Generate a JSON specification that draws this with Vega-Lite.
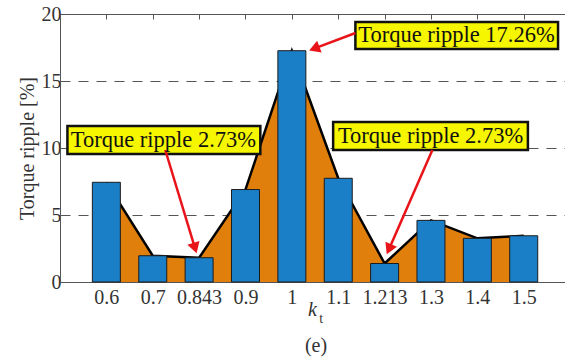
{
  "$schema": "https://vega.github.io/schema/vega-lite/v6.json",
  "width": 505,
  "height": 268,
  "autosize": {"type": "none"},
  "padding": {"left": 60, "top": 14, "right": 0, "bottom": 82},
  "background": "white",
  "config": {
    "view": {"stroke": null},
    "font": "Liberation Serif",
    "axis": {"labelFont": "Liberation Serif", "titleFont": "Liberation Serif", "labelColor": "#333", "titleColor": "#333", "domainColor": "#555", "tickColor": "#555", "titleFontWeight": "normal"}
  },
  "datasets": {
    "bars": [
      {"k": "0.6", "idx": 1, "ripple": 7.44},
      {"k": "0.7", "idx": 2, "ripple": 1.96},
      {"k": "0.843", "idx": 3, "ripple": 1.81},
      {"k": "0.9", "idx": 4, "ripple": 6.9},
      {"k": "1", "idx": 5, "ripple": 17.26},
      {"k": "1.1", "idx": 6, "ripple": 7.74},
      {"k": "1.213", "idx": 7, "ripple": 1.38},
      {"k": "1.3", "idx": 8, "ripple": 4.6},
      {"k": "1.4", "idx": 9, "ripple": 3.26},
      {"k": "1.5", "idx": 10, "ripple": 3.45}
    ],
    "notes": [
      {"label": "Torque ripple 2.73%", "x": 0.16, "x2": 4.32, "y": 9.55, "y2": 11.64, "tx": 2.23, "ty": 10.6},
      {"label": "Torque ripple 17.26%", "x": 6.37, "x2": 10.74, "y": 17.39, "y2": 19.4, "tx": 8.55, "ty": 18.4},
      {"label": "Torque ripple 2.73%", "x": 5.89, "x2": 10.09, "y": 9.85, "y2": 11.94, "tx": 7.99, "ty": 10.9}
    ],
    "arrows": [
      {"id": 1, "x": 2.27, "y": 9.85, "x2": 2.9, "y2": 2.66},
      {"id": 2, "x": 6.37, "y": 18.58, "x2": 5.52, "y2": 17.47},
      {"id": 3, "x": 8.03, "y": 9.85, "x2": 7.11, "y2": 2.57}
    ],
    "extra": [
      {"txt": "t", "x": 5.63, "y": -2.75, "size": 14},
      {"txt": "(e)", "x": 5.52, "y": -4.78, "size": 20}
    ]
  },
  "layer": [
    {
      "data": {"name": "bars"},
      "mark": {"type": "area", "color": "#e07f0c", "opacity": 1, "line": {"color": "black", "strokeWidth": 2.5}},
      "encoding": {
        "x": {"field": "idx", "type": "quantitative",
          "scale": {"domain": [0, 10.89], "nice": false, "zero": false, "padding": 0},
          "axis": {"orient": "bottom", "values": [1,2,3,4,5,6,7,8,9,10], "labelExpr": "['','0.6','0.7','0.843','0.9','1','1.1','1.213','1.3','1.4','1.5'][datum.value]", "ticks": false, "labelFontSize": 20, "labelPadding": 5, "title": "k", "titleFontStyle": "italic", "titleFontSize": 20, "titlePadding": -8, "titleX": 252, "grid": false, "labelFlush": false, "labelOverlap": false}},
        "y": {"field": "ripple", "type": "quantitative",
          "scale": {"domain": [0, 20], "nice": false},
          "axis": {"values": [0, 5, 10, 15, 20], "tickSize": -5, "labelFontSize": 20, "labelPadding": 4, "title": "Torque ripple [%]", "titleFontSize": 20, "titlePadding": 4, "grid": true, "gridDash": [10, 8], "gridColor": "#555", "gridWidth": 1.2, "labelFlush": false}}
      }
    },
    {
      "data": {"name": "bars"},
      "mark": {"type": "bar", "width": 28, "color": "#1a7fc6", "stroke": "#1c1c1c", "strokeWidth": 1},
      "encoding": {
        "x": {"field": "idx", "type": "quantitative",
          "axis": {"orient": "top", "values": [1,2,3,4,5,6,7,8,9,10], "labels": false, "tickSize": -5, "title": null, "grid": false}},
        "y": {"field": "ripple", "type": "quantitative"}
      }
    },
    {
      "data": {"name": "notes"},
      "mark": {"type": "rect", "fill": "#f6f600", "stroke": "#111", "strokeWidth": 2.5},
      "encoding": {
        "x": {"field": "x", "type": "quantitative", "axis": null},
        "x2": {"field": "x2"},
        "y": {"field": "y", "type": "quantitative"},
        "y2": {"field": "y2"}
      }
    },
    {
      "data": {"name": "arrows"},
      "mark": {"type": "rule", "color": "#e8141a", "strokeWidth": 2.5},
      "encoding": {
        "x": {"field": "x", "type": "quantitative", "axis": null},
        "x2": {"field": "x2"},
        "y": {"field": "y", "type": "quantitative"},
        "y2": {"field": "y2"}
      }
    },
    {
      "data": {"name": "arrows"},
      "transform": [{"filter": "datum.id == 1"}],
      "mark": {"type": "point", "shape": "triangle", "filled": true, "color": "#e8141a", "size": 160, "angle": 163, "opacity": 1},
      "encoding": {"x": {"field": "x2", "type": "quantitative", "axis": null}, "y": {"field": "y2", "type": "quantitative"}}
    },
    {
      "data": {"name": "arrows"},
      "transform": [{"filter": "datum.id == 2"}],
      "mark": {"type": "point", "shape": "triangle", "filled": true, "color": "#e8141a", "size": 160, "angle": 249, "opacity": 1},
      "encoding": {"x": {"field": "x2", "type": "quantitative", "axis": null}, "y": {"field": "y2", "type": "quantitative"}}
    },
    {
      "data": {"name": "arrows"},
      "transform": [{"filter": "datum.id == 3"}],
      "mark": {"type": "point", "shape": "triangle", "filled": true, "color": "#e8141a", "size": 160, "angle": 204, "opacity": 1},
      "encoding": {"x": {"field": "x2", "type": "quantitative", "axis": null}, "y": {"field": "y2", "type": "quantitative"}}
    },
    {
      "data": {"name": "notes"},
      "mark": {"type": "text", "font": "Liberation Serif", "fontSize": 22.5, "color": "#111", "align": "center", "baseline": "middle"},
      "encoding": {
        "x": {"field": "tx", "type": "quantitative", "axis": null},
        "y": {"field": "ty", "type": "quantitative"},
        "text": {"field": "label"}
      }
    },
    {
      "data": {"name": "extra"},
      "mark": {"type": "text", "font": "Liberation Serif", "color": "#333", "align": "center", "baseline": "middle"},
      "encoding": {
        "x": {"field": "x", "type": "quantitative", "axis": null},
        "y": {"field": "y", "type": "quantitative"},
        "text": {"field": "txt"},
        "size": {"field": "size", "type": "quantitative", "scale": null}
      }
    }
  ]
}
